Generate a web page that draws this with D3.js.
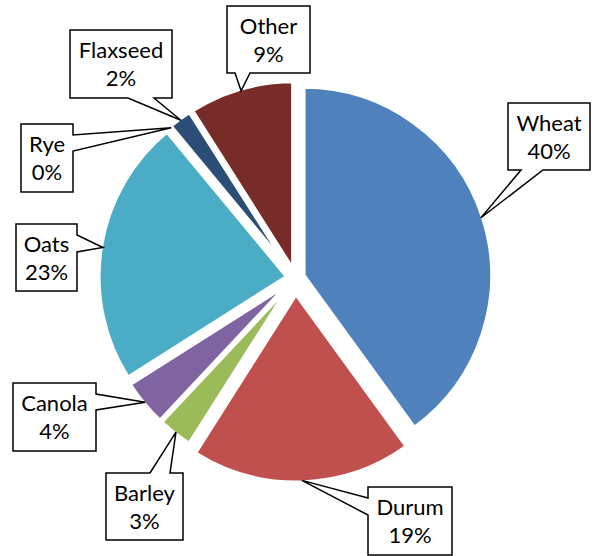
<!DOCTYPE html>
<html>
<head>
<meta charset="utf-8">
<script src="https://cdn.jsdelivr.net/npm/d3@7/dist/d3.min.js"></script>
<style>
  html, body { margin: 0; padding: 0; background: #fff; }
  svg { display: block; }
</style>
</head>
<body>
<svg id="chart" width="594" height="556"></svg>
<script>
// Crop share by category (percent)
const categories = ["Wheat", "Durum", "Barley", "Canola", "Oats", "Rye", "Flaxseed", "Other"];
const shares     = [40, 19, 3, 4, 23, 0, 2, 9];
const colors     = ["#4F81BD", "#C0504D", "#9BBB59", "#8064A2", "#4BACC6", "#F79646", "#2C4D75", "#772C2A"];

// Pie geometry
const center = { x: 295.5, y: 278 };
const radius = 188.5;
const explodeDefault = 8.5;
const explodeBy = { Durum: 16 };

// Callout boxes: box rectangle and where the pointer leaves the box
const calloutLayout = {
  Wheat:    { x: 508, y: 103, w: 82,  h: 67, side: "bottom", a: 13, b: 35 },
  Durum:    { x: 368, y: 487, w: 84,  h: 68, side: "left",   a: 11, b: 28 },
  Barley:   { x: 106, y: 473, w: 77,  h: 67, side: "top",    a: 44, b: 64 },
  Canola:   { x: 13,  y: 383, w: 83,  h: 68, side: "right",  a: 11, b: 27 },
  Oats:     { x: 16,  y: 224, w: 61,  h: 67, side: "right",  a: 11, b: 28 },
  Rye:      { x: 21,  y: 124, w: 52,  h: 68, side: "right",  a: 11, b: 27 },
  Flaxseed: { x: 70,  y: 30,  w: 102, h: 68, side: "bottom", a: 58, b: 84 },
  Other:    { x: 227, y: 6,   w: 83,  h: 67, side: "bottom", a: 8,  b: 23 }
};

const data = categories.map((c, i) => ({ name: c, value: shares[i], color: colors[i] }));

const svg = d3.select("#chart");

const pie = d3.pie().sort(null).value(d => d.value).startAngle(0).endAngle(2 * Math.PI);
const arcs = pie(data);
const arcGen = d3.arc().innerRadius(0).outerRadius(radius);

// Offset of each exploded slice and where its callout points
arcs.forEach(a => {
  const mid = (a.startAngle + a.endAngle) / 2;
  const e = explodeBy[a.data.name] ?? explodeDefault;
  a.dx = Math.sin(mid) * e;
  a.dy = -Math.cos(mid) * e;
  a.tip = [
    center.x + a.dx + Math.sin(mid) * (radius - 2),
    center.y + a.dy - Math.cos(mid) * (radius - 2)
  ];
});

const slices = svg.append("g").attr("transform", `translate(${center.x},${center.y})`);
slices.selectAll("path")
  .data(arcs.filter(a => a.data.value > 0))
  .join("path")
  .attr("transform", a => `translate(${a.dx},${a.dy})`)
  .attr("d", arcGen)
  .attr("fill", a => a.data.color)
  .attr("stroke", "#fff")
  .attr("stroke-width", 4)
  .attr("stroke-linejoin", "miter");

// Callout outline: rectangle with a wedge reaching the slice
function calloutPath(L, tip) {
  const { x, y, w, h, side, a, b } = L;
  const pts = [[x, y]];
  if (side === "top") pts.push([x + a, y], tip, [x + b, y]);
  pts.push([x + w, y]);
  if (side === "right") pts.push([x + w, y + a], tip, [x + w, y + b]);
  pts.push([x + w, y + h]);
  if (side === "bottom") pts.push([x + b, y + h], tip, [x + a, y + h]);
  pts.push([x, y + h]);
  if (side === "left") pts.push([x, y + b], tip, [x, y + a]);
  return "M" + pts.map(p => p.join(",")).join("L") + "Z";
}

const labels = svg.append("g");
arcs.forEach(a => {
  const L = calloutLayout[a.data.name];
  const g = labels.append("g");
  g.append("path")
    .attr("d", calloutPath(L, a.tip))
    .attr("fill", "#fff")
    .attr("stroke", "#000")
    .attr("stroke-width", 1.5)
    .attr("stroke-linejoin", "miter");
  const cx = L.x + L.w / 2;
  const cy = L.y + L.h / 2;
  const t = g.append("text")
    .attr("text-anchor", "middle")
    .attr("font-family", "Lato, 'Open Sans', sans-serif")
    .attr("font-size", 22)
    .attr("fill", "#000");
  t.append("tspan").attr("x", cx).attr("y", cy - 6).text(a.data.name);
  t.append("tspan").attr("x", cx).attr("y", cy + 22).text(a.data.value + "%");
});
</script>
</body>
</html>
